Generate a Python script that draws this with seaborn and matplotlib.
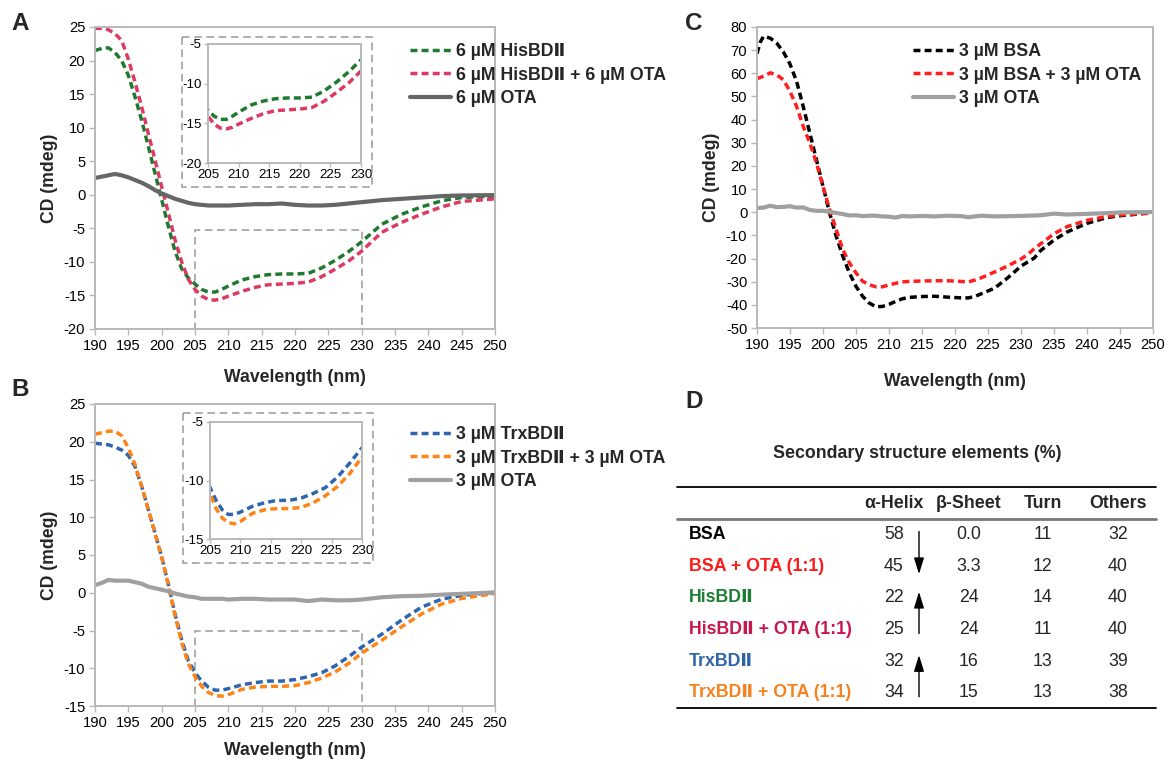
import matplotlib
matplotlib.use('Agg')
import matplotlib.pyplot as plt
import seaborn as sns
from matplotlib.patches import Rectangle

sns.set_theme(style='white')
plt.rcParams['font.family'] = ['Liberation Sans', 'DejaVu Sans']
plt.rcParams['axes.unicode_minus'] = False

# ---------------- data ----------------
wl_ab = [190, 191, 192, 193, 194, 195, 196, 197, 198, 199, 200, 201, 202, 203, 204,
         205, 206, 207, 208, 209, 210, 212, 214, 216, 218, 220, 222, 224, 226, 228,
         230, 233, 236, 239, 242, 245, 250]

his = [21.5, 21.8, 21.9, 21.2, 20.0, 17.8, 14.6, 11.1, 7.2, 3.2, -0.7, -4.7, -8.4, -11.0, -12.4,
       -13.3, -14.1, -14.5, -14.5, -14.1, -13.6, -12.7, -12.2, -11.9, -11.8, -11.8, -11.7, -10.9, -9.8, -8.5,
       -7.0, -4.4, -2.9, -1.8, -0.9, -0.4, -0.2]
his_ota = [24.8, 24.8, 24.6, 24.0, 23.0, 20.2, 16.8, 13.1, 9.1, 5.2, 1.2, -2.7, -6.7, -10.0, -12.6,
           -14.1, -15.1, -15.6, -15.7, -15.5, -15.1, -14.4, -13.8, -13.4, -13.3, -13.2, -13.0, -12.2, -11.1, -9.9,
           -8.4, -5.6, -4.1, -2.9, -1.8, -1.0, -0.6]
ota_a = [2.5, 2.7, 2.9, 3.1, 2.9, 2.6, 2.2, 1.8, 1.3, 0.7, 0.2, -0.2, -0.6, -0.9, -1.2,
         -1.4, -1.5, -1.6, -1.6, -1.6, -1.6, -1.5, -1.4, -1.4, -1.3, -1.5, -1.6, -1.6, -1.5, -1.3,
         -1.1, -0.8, -0.6, -0.4, -0.2, -0.1, -0.05]

trx = [19.8, 19.7, 19.6, 19.3, 18.9, 18.2, 16.7, 14.1, 11.0, 7.9, 4.8, 1.1, -2.8, -6.2, -9.0,
       -10.6, -11.7, -12.5, -12.9, -12.9, -12.7, -12.2, -11.9, -11.7, -11.7, -11.5, -11.1, -10.6, -9.7, -8.5,
       -7.2, -5.5, -3.6, -1.9, -0.85, -0.35, 0.05]
trx_ota = [21.0, 21.2, 21.4, 21.4, 20.8, 19.2, 17.0, 14.1, 11.0, 7.9, 4.7, 1.0, -3.0, -6.6, -9.4,
           -11.1, -12.4, -13.2, -13.6, -13.7, -13.5, -12.8, -12.5, -12.4, -12.4, -12.3, -11.9, -11.3, -10.5, -9.4,
           -8.0, -6.3, -4.5, -2.8, -1.5, -0.75, -0.1]
ota_b = [1.0, 1.3, 1.7, 1.6, 1.6, 1.6, 1.4, 1.2, 0.8, 0.6, 0.4, 0.2, -0.1, -0.3, -0.5,
         -0.6, -0.8, -0.8, -0.8, -0.8, -0.9, -0.8, -0.8, -0.9, -0.9, -0.9, -1.1, -0.9, -1.0, -1.0,
         -0.9, -0.6, -0.45, -0.4, -0.25, -0.15, 0.05]

wl_c = [190, 190.5, 191, 192, 193, 194, 195, 196, 197, 198, 199, 200, 201, 202, 203, 204,
        205, 206, 207, 208, 209, 210, 211, 212, 213, 215, 217, 219, 221, 222, 223, 224,
        226, 228, 230, 231, 232, 233, 235, 237, 240, 243, 245, 247, 250]
bsa = [68.5, 73.5, 76.0, 75.2, 73.0, 69.2, 64.0, 56.5, 45.7, 34.2, 22.7, 11.2, -0.3, -10.4, -19.0, -26.2,
       -32.0, -36.3, -39.2, -40.8, -40.7, -39.8, -38.5, -37.4, -36.8, -36.4, -36.3, -36.7, -37.0, -37.0, -36.4, -35.2,
       -32.8, -28.3, -23.3, -21.5, -19.8, -16.5, -12.0, -8.5, -4.8, -2.3, -1.5, -1.0, -0.1]
bsa_ota = [57.7, 58.2, 58.8, 60.2, 59.3, 57.2, 52.2, 45.7, 37.1, 29.9, 21.3, 11.2, 1.2, -7.5, -16.1, -21.9,
           -26.2, -29.8, -31.3, -32.2, -32.2, -31.4, -30.7, -30.1, -29.9, -29.7, -29.6, -29.6, -29.9, -30.1, -29.3, -28.3,
           -25.8, -23.2, -20.2, -18.3, -15.8, -13.6, -9.3, -6.2, -3.5, -1.8, -1.2, -0.8, -0.4]
ota_c = [1.8, 1.9, 2.0, 2.8, 2.2, 2.3, 2.6, 2.0, 2.1, 1.0, 0.6, 0.6, 0.2, -0.3, -0.8, -1.4,
         -1.3, -1.7, -1.5, -1.5, -1.8, -1.9, -2.3, -1.6, -1.8, -1.6, -1.8, -1.5, -1.7, -2.2, -1.8, -1.5,
         -1.8, -1.7, -1.6, -1.5, -1.4, -1.3, -0.6, -1.0, -0.7, -0.4, -0.1, 0.0, 0.1]

labels_a = ['6 µM HisBDⅡ', '6 µM HisBDⅡ + 6 µM OTA', '6 µM OTA']
labels_b = ['3 µM TrxBDⅡ', '3 µM TrxBDⅡ + 3 µM OTA', '3 µM OTA']
labels_c = ['3 µM BSA', '3 µM BSA + 3 µM OTA', '3 µM OTA']

table_title = 'Secondary structure elements (%)'
table_cols = ['α-Helix', 'β-Sheet', 'Turn', 'Others']
table_rows = ['BSA', 'BSA + OTA (1:1)', 'HisBDⅡ', 'HisBDⅡ + OTA (1:1)', 'TrxBDⅡ', 'TrxBDⅡ + OTA (1:1)']
helix = ['58', '45', '22', '25', '32', '34']
sheet = ['0.0', '3.3', '24', '24', '16', '15']
turn = ['11', '12', '14', '11', '13', '13']
others = ['32', '40', '40', '40', '39', '38']
arrows = [(0, 1), (3, 2), (5, 4)]

# ---------------- styles ----------------
GREEN = '#1f7a30'
CRIMSON = '#dc3a62'
BLUE = '#2e65ad'
ORANGE = '#ff8418'
RED = '#ff1f1f'
BLACK = '#000000'
DGRAY = '#666666'
LGRAY = '#a0a0a0'
SP = '#b8b8b8'
row_colors = [BLACK, '#ff1a1a', '#1e7e34', '#c8174f', '#2f64a8', '#f5821f']
DASH = (0, (2.0, 1.2))
FS_TXT = 12.8

W, H = 1168, 763
fig = plt.figure(figsize=(W / 100, H / 100), dpi=100)


def rect(l, t, r, b):
    return [l / W, 1 - b / H, (r - l) / W, (b - t) / H]


def style(ax, xt, yt, fs, tl=4):
    for s in ax.spines.values():
        s.set_visible(True)
        s.set_color(SP)
        s.set_linewidth(1.4)
    ax.tick_params(axis='both', which='major', direction='out', length=tl, width=1,
                   color=SP, labelsize=fs, labelcolor='black', bottom=True, left=True, pad=3)
    ax.set_xticks(xt)
    ax.set_xticklabels([str(v) for v in xt])
    ax.set_yticks(yt)
    ax.set_yticklabels([str(v) for v in yt])
    ax.grid(False)
    ax.set_facecolor('white')


def draw(ax, x, series, lab=True):
    for (y, c, ls, lw, name) in series:
        sns.lineplot(x=x, y=y, ax=ax, color=c, linestyle=ls, lw=lw,
                     label=name if lab else None, legend=False, estimator=None,
                     errorbar=None, sort=False)


def legend(ax, x0, y0):
    ax.legend(loc='upper left', bbox_to_anchor=(x0 / W, 1 - y0 / H), bbox_transform=fig.transFigure,
              frameon=False, prop={'weight': 'bold', 'size': FS_TXT}, handlelength=2.3,
              handletextpad=0.3, labelspacing=0.37, borderpad=0, borderaxespad=0)


def axlabels(ax, xpad):
    ax.set_xlabel('Wavelength (nm)', fontsize=12.7, fontweight='bold', labelpad=xpad)
    ax.set_ylabel('CD (mdeg)', fontsize=12.7, fontweight='bold', labelpad=4)


xt = list(range(190, 251, 5))
xt_in = list(range(205, 231, 5))

# ---- Panel A ----
axA = fig.add_axes(rect(95, 27, 495, 329))
sA = [(his, GREEN, DASH, 2.5, labels_a[0]), (his_ota, CRIMSON, DASH, 2.5, labels_a[1]),
      (ota_a, DGRAY, '-', 3.0, labels_a[2])]
draw(axA, wl_ab, sA)
axA.set_xlim(190, 250)
axA.set_ylim(-20, 25)
style(axA, xt, list(range(-20, 26, 5)), 10.6)
axlabels(axA, 11.5)
axA.add_patch(Rectangle((205, -20), 25, 14.75, fill=False, ec='#999999', lw=1.1, ls=(0, (5, 3)), zorder=1))
legend(axA, 410, 43)

axAi = fig.add_axes(rect(208, 44, 361, 163))
draw(axAi, wl_ab, sA, lab=False)
axAi.set_xlim(205, 230)
axAi.set_ylim(-20, -5)
style(axAi, xt_in, [-20, -15, -10, -5], 9.6, tl=3)
axAi.tick_params(pad=1.5)
axAi.set_xlabel('')
axAi.set_ylabel('')

# ---- Panel B ----
axB = fig.add_axes(rect(95, 404, 495, 706))
sB = [(trx, BLUE, DASH, 2.5, labels_b[0]), (trx_ota, ORANGE, DASH, 2.5, labels_b[1]),
      (ota_b, LGRAY, '-', 3.0, labels_b[2])]
draw(axB, wl_ab, sB)
axB.set_xlim(190, 250)
axB.set_ylim(-15, 25)
style(axB, xt, list(range(-15, 26, 5)), 10.6)
axlabels(axB, 9)
axB.add_patch(Rectangle((205, -15), 25, 10, fill=False, ec='#999999', lw=1.1, ls=(0, (5, 3)), zorder=1))
legend(axB, 410, 426)

axBi = fig.add_axes(rect(210, 422, 362, 539))
draw(axBi, wl_ab, sB, lab=False)
axBi.set_xlim(205, 230)
axBi.set_ylim(-15, -5)
style(axBi, xt_in, [-15, -10, -5], 9.6, tl=3)
axBi.tick_params(pad=1.5)
axBi.set_xlabel('')
axBi.set_ylabel('')

# ---- Panel C ----
axC = fig.add_axes(rect(757, 27, 1153, 328))
sC = [(bsa, BLACK, DASH, 2.5, labels_c[0]), (bsa_ota, RED, DASH, 2.5, labels_c[1]),
      (ota_c, LGRAY, '-', 3.0, labels_c[2])]
draw(axC, wl_c, sC)
axC.set_xlim(190, 250)
axC.set_ylim(-50, 80)
style(axC, xt, list(range(-50, 81, 10)), 10.6)
axlabels(axC, 15)
legend(axC, 913, 43)

# ---- overlay: panel letters, inset frames, table ----
ov = fig.add_axes([0, 0, 1, 1])
ov.set_xlim(0, W)
ov.set_ylim(H, 0)
ov.axis('off')

for (l, t, r, b) in [(182, 37, 372, 187), (183, 413, 373, 563)]:
    ov.add_patch(Rectangle((l, t), r - l, b - t, fill=False, ec='#999999', lw=1.1, ls=(0, (5, 3))))

for letter, x, y in [('A', 11, 24), ('B', 11, 389), ('C', 685, 24), ('D', 685, 401)]:
    ov.text(x, y, letter, fontsize=17.5, fontweight='bold', ha='left', va='center')

ov.text(917, 453, table_title, fontsize=FS_TXT, fontweight='bold', ha='center', va='center')
ov.plot([677, 1156], [487, 487], color='black', lw=1.3)
ov.plot([677, 1156], [519, 519], color='#777777', lw=2.0)
ov.plot([677, 1156], [708, 708], color='black', lw=1.3)

col_x = [894, 969, 1043, 1118]
for cx, name in zip(col_x, table_cols):
    ov.text(cx, 503, name, fontsize=FS_TXT, fontweight='bold', ha='center', va='center')

row_y0, row_dy = 534.5, 31.65
for i, (name, c) in enumerate(zip(table_rows, row_colors)):
    yc = row_y0 + i * row_dy
    ov.text(689, yc, name, fontsize=FS_TXT, fontweight='bold', color=c, ha='left', va='center')
    for cx, col in zip(col_x, [helix, sheet, turn, others]):
        ov.text(cx, yc, col[i], fontsize=FS_TXT, ha='center', va='center')

for a, b in arrows:
    ya = row_y0 + a * row_dy
    yb = row_y0 + b * row_dy
    d = 1 if yb > ya else -1
    tail = ya - 3 * d if d > 0 else ya + 4
    tip = yb + 8 * d if d > 0 else yb - 6
    ov.annotate('', xy=(919, tip), xytext=(919, tail),
                arrowprops=dict(arrowstyle='-|>,head_length=0.55,head_width=0.17', color='black',
                                lw=1.0, mutation_scale=18, shrinkA=0, shrinkB=0))

fig.savefig('out.png', dpi=100, facecolor='white')
